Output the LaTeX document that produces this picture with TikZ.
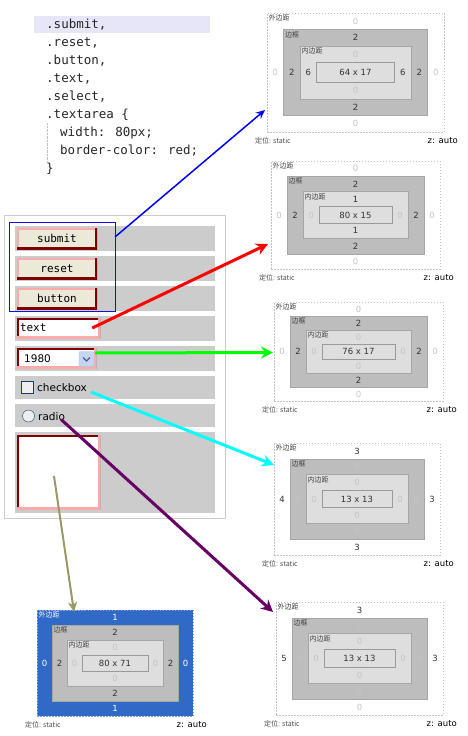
\documentclass[tikz,border=0pt]{standalone}
\usepackage{fontspec}
\setmainfont{DejaVu Sans}
\newfontfamily\cjk{Noto Sans CJK SC}
\newfontfamily\codefont{DejaVu Sans Mono}
\usepackage{tikz}
\usetikzlibrary{positioning,calc,arrows.meta}

\definecolor{rowgray}{HTML}{CCCCCC}
\definecolor{btnface}{HTML}{ECE9D8}
\definecolor{pinkb}{HTML}{FFAAAA}
\definecolor{darkred}{HTML}{800000}
\definecolor{selblue}{HTML}{1010E0}
\definecolor{ddface}{HTML}{C4D5F2}
\definecolor{ddline}{HTML}{A8BEE5}
\definecolor{ddarrow}{HTML}{4D6185}
\definecolor{chkline}{HTML}{1C3F64}
\definecolor{chkface}{HTML}{EEEEEE}
\definecolor{hlface}{HTML}{E6E6F8}
\definecolor{mgline}{HTML}{C4C4C4}
\definecolor{bdface}{HTML}{BDBDBD}
\definecolor{bdline}{HTML}{A6A6A6}
\definecolor{pdface}{HTML}{DEDEDE}
\definecolor{ctline}{HTML}{9A9A9A}
\definecolor{zeroc}{HTML}{C4C4C4}
\definecolor{blueface}{HTML}{3169C6}
\definecolor{linkgreen}{HTML}{00FF00}
\definecolor{linkcyan}{HTML}{00FFFF}
\definecolor{linkpurple}{HTML}{660066}
\definecolor{linkolive}{HTML}{999966}

% zero values are printed pale
\newcommand{\bv}[1]{\ifnum#1=0 \textcolor{zeroc}{0}\else#1\fi}

% one box-model panel: name, centre x, centre y, width, height, step x, step y
\newcommand{\boxmodel}[7]{%
  \node[marginbox, minimum width=#4, minimum height=#5] (#1m) at (#2,#3) {};
  \node[borderbox, minimum width=#4-2*#6, minimum height=#5-2*#7] (#1b) at (#2,#3) {};
  \node[padbox, minimum width=#4-4*#6, minimum height=#5-4*#7] (#1p) at (#2,#3) {};
  \node[contentbox, minimum width=#4-6*#6, minimum height=#5-6*#7] (#1c) at (#2,#3) {};
  \node[boxtitle, mtitle] (#1mlab) at (#1m.north west) {外边距};
  \node[boxtitle] (#1blab) at (#1b.north west) {边框};
  \node[boxtitle] (#1plab) at (#1p.north west) {内边距};
  \node[footer, anchor=west] (#1pos) at ($(#1m.south west)+(-12,9)$) {定位: static};
  \node[zlabel, anchor=east] (#1z) at ($(#1m.south east)+(14,9)$) {z: auto};
}

% values between two nested boxes: outer, inner, top, right, bottom, left
\newcommand{\sides}[6]{%
  \node[val] (#1t) at ($(#1.north)!.5!(#2.north)$) {\bv{#3}};
  \node[val] (#1r) at ($(#1.east)!.5!(#2.east)$) {\bv{#4}};
  \node[val] (#1bt) at ($(#1.south)!.5!(#2.south)$) {\bv{#5}};
  \node[val] (#1l) at ($(#1.west)!.5!(#2.west)$) {\bv{#6}};
}

\begin{document}
\begin{tikzpicture}[x=1pt,y=-1pt,>=latex]
  \tikzset{
    codeline/.style={anchor=west, inner sep=0, text=black!85,
      font=\codefont\fontsize{12.5}{15}\selectfont},
    row/.style={fill=rowgray, inner sep=0, minimum width=200},
    outset/.style={path picture={
      \draw[line width=4, pinkb] (path picture bounding box.south west) rectangle (path picture bounding box.north east);
      \draw[line width=4, darkred] (path picture bounding box.north east) |- (path picture bounding box.south west);}},
    inset/.style={path picture={
      \draw[line width=4, darkred] (path picture bounding box.south west) rectangle (path picture bounding box.north east);
      \draw[line width=4, pinkb] (path picture bounding box.north east) |- (path picture bounding box.south west);}},
    btn/.style={outset, fill=btnface, minimum width=80, minimum height=21, inner sep=0,
      font=\codefont\fontsize{11}{13}\selectfont},
    field/.style={inset, fill=white, inner sep=0},
    formtext/.style={anchor=west, inner sep=0, font=\fontsize{10.5}{12}\selectfont},
    marginbox/.style={draw=mgline, dash pattern=on 1.5pt off 1.5pt, inner sep=0, outer sep=0},
    borderbox/.style={fill=bdface, draw=bdline, inner sep=0, outer sep=0},
    padbox/.style={fill=pdface, draw=bdline, inner sep=0, outer sep=0},
    contentbox/.style={fill=pdface, draw=ctline, line width=1, inner sep=0, outer sep=0},
    boxtitle/.style={anchor=north west, inner sep=1.5, text=black!75,
      font=\cjk\fontsize{7}{8}\selectfont},
    mtitle/.style={},
    val/.style={inner sep=0, text=black!80, font=\fontsize{8.5}{10}\selectfont},
    footer/.style={inner sep=0, text=black!70, font=\cjk\fontsize{7}{8}\selectfont},
    zlabel/.style={inner sep=0, text=black, font=\fontsize{8.5}{10}\selectfont},
    link/.style={-{Stealth[length=12pt,width=12pt,inset=4pt]}, line width=3}
  }
  \useasboundingbox (0,0) rectangle (467,736);

  % css snippet
  \node[fill=hlface, minimum width=176, minimum height=17, inner sep=0] (hl) at (122,24.5) {};
  \foreach \cl [count=\i] in {{.submit,},{.reset,},{.button,},{.text,},{.select,},{.textarea \{}}
    \node[codeline] (code\i) at (46,7+18*\i) {\cl};
  \node[codeline] (code7) at (60,133) {width: 80px;};
  \node[codeline] (code8) at (60,151) {border-color: red;};
  \node[codeline] (code9) at (46,169) {\}};
  \draw[gray!50, densely dotted] ($(code6.south west)+(1,2)$) -- ($(code9.north west)+(1,-2)$);

  % the form
  \node[draw=rowgray, minimum width=221, minimum height=303, inner sep=0] (form) at (114.5,366.5) {};
  \foreach \y/\h [count=\i] in {238.5/25,268.5/25,298.5/25,328.5/25,358.5/25,387.5/23,415.5/23,472.5/81}
    \node[row, minimum height=\h] (row\i) at (115,\y) {};

  \node[btn] (submit) at (57,238.5) {submit};
  \node[btn] (reset) at (57,268.5) {reset};
  \node[btn] (button) at (57,298.5) {button};
  \node[draw=selblue, minimum width=106, minimum height=89, inner sep=0] (btngroup) at (62,266.5) {};

  \node[field, minimum width=83, minimum height=20] (txtin) at (58.5,328) {};
  \node[anchor=west, inner sep=0, font=\codefont\fontsize{11}{13}\selectfont] (txtlab) at ($(txtin.west)+(3,0)$) {text};

  \node[field, minimum width=79, minimum height=20] (yearsel) at (56.5,358) {};
  \node[formtext] (yearlab) at (24,358.5) {1980};
  \node[fill=ddface, draw=ddline, rounded corners=1, minimum width=15, minimum height=15, inner sep=0] (ddbtn) at (86.5,359) {};
  \draw[ddarrow, line width=1.2] ($(ddbtn.center)+(-3.5,-1.5)$) -- ($(ddbtn.center)+(0,2)$) -- ($(ddbtn.center)+(3.5,-1.5)$);

  \node[draw=chkline, fill=chkface, minimum size=12, inner sep=0] (chk) at (27.5,387.5) {};
  \node[formtext] (chklab) at (37,388) {checkbox};
  \node[circle, draw=chkline, fill=chkface, minimum size=12, inner sep=0] (rad) at (28.5,416) {};
  \node[formtext] (radlab) at (38,416.5) {radio};

  \node[field, minimum width=83, minimum height=74] (txtarea) at (58.5,472) {};

  % box-model panels
  \boxmodel{p1}{355.5}{72.5}{177}{119}{16.5}{16.5}
  \sides{p1m}{p1b}{0}{0}{0}{0}
  \sides{p1b}{p1p}{2}{2}{2}{2}
  \sides{p1p}{p1c}{0}{6}{0}{6}
  \node[val] (p1size) at (p1c) {64 x 17};

  \boxmodel{p2}{355.5}{215}{169}{108}{16}{15.3}
  \sides{p2m}{p2b}{0}{0}{0}{0}
  \sides{p2b}{p2p}{2}{2}{2}{2}
  \sides{p2p}{p2c}{1}{0}{1}{0}
  \node[val] (p2size) at (p2c) {80 x 15};

  \boxmodel{p3}{358.5}{351.5}{169}{99}{16}{14}
  \sides{p3m}{p3b}{0}{0}{0}{0}
  \sides{p3b}{p3p}{2}{2}{2}{2}
  \sides{p3p}{p3c}{0}{0}{0}{0}
  \node[val] (p3size) at (p3c) {76 x 17};

  \boxmodel{p4}{357}{499}{166}{112}{16}{15.8}
  \sides{p4m}{p4b}{3}{3}{3}{4}
  \sides{p4b}{p4p}{0}{0}{0}{0}
  \sides{p4p}{p4c}{0}{0}{0}{0}
  \node[val] (p4size) at (p4c) {13 x 13};

  \boxmodel{p5}{359.5}{658.5}{167}{113}{16}{15.8}
  \sides{p5m}{p5b}{3}{3}{0}{5}
  \sides{p5b}{p5p}{0}{0}{0}{0}
  \sides{p5p}{p5c}{0}{0}{0}{0}
  \node[val] (p5size) at (p5c) {13 x 13};

  \begin{scope}
    \tikzset{marginbox/.append style={fill=blueface, draw=blueface!60!white},
      mtitle/.style={text=white}}
    \boxmodel{p6}{115}{663}{156}{106}{15}{15}
    \begin{scope}[val/.append style={text=white}]
      \colorlet{zeroc}{white}
      \sides{p6m}{p6b}{1}{0}{1}{0}
    \end{scope}
    \sides{p6b}{p6p}{2}{2}{2}{2}
    \sides{p6p}{p6c}{0}{0}{0}{0}
    \node[val] (p6size) at (p6c) {80 x 71};
  \end{scope}

  % links
  \draw[link, draw=blue, fill=blue, line width=1.5, -{Stealth[length=9pt,width=8pt,inset=3pt]}]
    ($(btngroup.north east)+(0,15)$) -- ($(p1m.south west)+(-2,-22)$);
  \draw[link, draw=red, fill=red] ($(txtin.east)+(-8,0)$) -- ($(p2m.south west)+(-3,-25)$);
  \draw[link, draw=linkgreen, fill=linkgreen] ($(yearsel.east)+(-1,-5)$) -- ($(p3m.west)+(-1,1)$);
  \draw[link, draw=linkcyan, fill=linkcyan] ($(chklab.east)+(4,4)$) -- ($(p4m.north west)+(0,22)$);
  \draw[link, draw=linkpurple, fill=linkpurple] ($(radlab.east)+(-4,3)$) -- ($(p5m.north west)+(-3,10)$);
  \draw[link, draw=linkolive, fill=linkolive, line width=2, -{Stealth[length=10pt,width=9pt,inset=3pt]}]
    ($(txtarea.center)+(-4.5,4)$) -- ($(p6m.north)+(-41,2)$);
\end{tikzpicture}
\end{document}
